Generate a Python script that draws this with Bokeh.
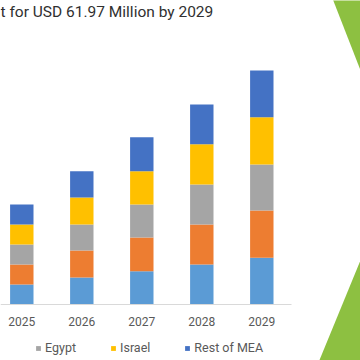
from bokeh.plotting import figure
from bokeh.models import Range1d, FixedTicker, Legend, LegendItem, Label, ColumnDataSource
from bokeh.embed import file_html
from bokeh.resources import INLINE

# ---- data ----
years = [2025, 2026, 2027, 2028, 2029]
year_labels = ["2025", "2026", "2027", "2028", "2029"]
series_names = ["Saudi Arabia", "South Africa", "Egypt", "Israel", "Rest of MEA"]
saudi = [5.29, 7.14, 8.81, 10.58, 12.35]
south_africa = [5.29, 7.14, 8.92, 10.58, 12.51]
egypt = [5.29, 6.88, 8.73, 10.58, 12.17]
israel = [5.29, 7.14, 8.81, 10.66, 12.51]
rest_mea = [5.29, 6.96, 8.99, 10.50, 12.35]
colors = ["#5B9BD5", "#ED7D31", "#A5A5A5", "#FFC000", "#4472C4"]
legend_shown = ["Egypt", "Israel", "Rest of MEA"]
title_text = "t for USD 61.97 Million by 2029"

# ---- layout constants ----
W = H = 360
PX_YEAR = 60.0
PX_UNIT = 3.78
x_start = 2025 - 21.3 / PX_YEAR
x_end = x_start + W / PX_YEAR
y_start = -56 / PX_UNIT
y_end = y_start + H / PX_UNIT


def dx(px):  # picture pixel -> data x
    return x_start + px / PX_YEAR


def dy(py):  # picture pixel -> data y
    return y_start + (H - py) / PX_UNIT


p = figure(width=W, height=H, x_range=Range1d(x_start, x_end), y_range=Range1d(y_start, y_end),
           output_backend="svg", toolbar_location=None, min_border=0,
           y_axis_location=None, outline_line_color=None)
p.grid.visible = False

# decorative green corners
p.patch([dx(332), dx(362), dx(362)], [dy(-2), dy(-2), dy(75)], color="#8DC041", line_width=0)
p.patch([dx(362), dx(362), dx(318)], [dy(255), dy(362), dy(362)], color="#8DC041", line_width=0)

source = ColumnDataSource(dict(year=years, **dict(zip(series_names, [saudi, south_africa, egypt, israel, rest_mea]))))
rs = p.vbar_stack(series_names, x="year", width=0.39, color=colors, source=source, line_width=0)

ax = p.xaxis[0]
ax.fixed_location = 0
ax.ticker = FixedTicker(ticks=years)
ax.major_label_overrides = {y: l for y, l in zip(years, year_labels)}
ax.bounds = (2024.5, 2029.5)
ax.axis_line_color = "#D9D9D9"
ax.major_tick_line_color = None
ax.minor_tick_line_color = None
ax.major_label_standoff = 6
ax.major_label_text_font = "Roboto"
ax.major_label_text_font_size = "12px"
ax.major_label_text_color = "#595959"

items = [LegendItem(label=n, renderers=[rs[series_names.index(n)]]) for n in legend_shown]
legend = Legend(items=items, location=(35, 5), orientation="horizontal",
                glyph_width=6, glyph_height=6, label_standoff=4, spacing=34,
                padding=0, margin=0, border_line_color=None, background_fill_alpha=0,
                label_text_font="Roboto", label_text_font_size="12.5px",
                label_text_color="#595959", label_height=10, label_text_baseline="middle")
p.add_layout(legend)

title = Label(x=0, y=349, x_units="screen", y_units="screen", text=title_text,
              text_font="Roboto", text_font_size="15.5px", text_color="#303030",
              text_baseline="alphabetic")
p.add_layout(title)

open("out.html", "w").write(file_html(p, INLINE))
